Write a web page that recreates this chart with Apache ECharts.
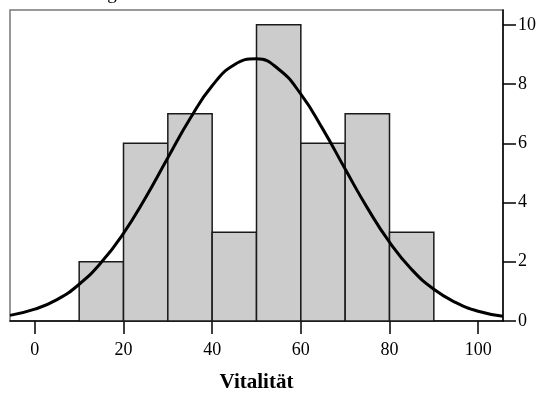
<!DOCTYPE html>
<html>
<head>
<meta charset="utf-8">
<script src="https://cdn.jsdelivr.net/npm/echarts@6/dist/echarts.min.js"></script>
<style>html,body{margin:0;padding:0;background:#fff;}#c{width:546px;height:398px;}</style>
</head>
<body>
<div id="c"></div>
<script>
// Histogram bins (Vitalität) and counts
var binStarts = [10, 20, 30, 40, 50, 60, 70, 80];
var binEnds   = [20, 30, 40, 50, 60, 70, 80, 90];
var counts    = [2, 6, 7, 3, 10, 6, 7, 3];
// Normal curve points
var curveX = [-5.6, 0, 5, 10, 15, 20, 25, 30, 35, 40, 45, 50, 55, 60, 65, 70, 75, 80, 85, 90, 95, 100, 105.6];
var curveY = [0.19, 0.40, 0.72, 1.24, 1.98, 2.96, 4.17, 5.51, 6.83, 7.94, 8.65, 8.85, 8.50, 7.66, 6.47, 5.13, 3.82, 2.66, 1.74, 1.07, 0.62, 0.33, 0.16];
var xTicks = [0, 20, 40, 60, 80, 100];
var yTicks = [0, 2, 4, 6, 8, 10];
var xTitle = 'Vitalität';
var chartTitle = 'Histogramm';

var barData = binStarts.map(function (s, i) { return [s, binEnds[i], counts[i]]; });
var lineData = curveX.map(function (x, i) { return [x, curveY[i]]; });
var FONT = 'Liberation Serif';

var chart = echarts.init(document.getElementById('c'), null, {renderer: 'canvas'});
chart.setOption({
  animation: false,
  backgroundColor: '#ffffff',
  graphic: [{
    type: 'text', left: 66, top: -15, silent: true,
    style: {text: chartTitle, font: '19px "Liberation Serif"', fill: '#000'}
  }],
  grid: {left: 10, right: 43, top: 10, bottom: 75, show: true, borderColor: '#777', borderWidth: 1.5, backgroundColor: 'transparent'},
  xAxis: {
    type: 'value', min: -5.6, max: 105.6,
    splitLine: {show: false},
    axisLine: {show: true, onZero: false, lineStyle: {color: '#000', width: 1.5}},
    axisTick: {show: true, length: 13, customValues: xTicks, lineStyle: {color: '#000', width: 1.5}},
    axisLabel: {customValues: xTicks, margin: 20, fontFamily: FONT, fontSize: 18, color: '#000'},
    name: xTitle, nameLocation: 'middle', nameGap: 51,
    nameTextStyle: {fontFamily: FONT, fontSize: 21, fontWeight: 'bold', color: '#000'}
  },
  yAxis: {
    type: 'value', position: 'right', min: 0, max: 10.5,
    splitLine: {show: false},
    axisLine: {show: true, onZero: false, lineStyle: {color: '#000', width: 1.5}},
    axisTick: {show: true, length: 13, customValues: yTicks, lineStyle: {color: '#000', width: 1.5}},
    axisLabel: {customValues: yTicks, margin: 15, fontFamily: FONT, fontSize: 18, color: '#000'}
  },
  series: [{
    type: 'custom',
    data: barData,
    encode: {x: [0, 1], y: 2},
    renderItem: function (params, api) {
      var p0 = api.coord([api.value(0), 0]);
      var p1 = api.coord([api.value(1), api.value(2)]);
      return {
        type: 'rect',
        shape: {x: p0[0], y: p1[1], width: p1[0] - p0[0], height: p0[1] - p1[1]},
        style: {fill: '#cccccc', stroke: '#1a1a1a', lineWidth: 1.5}
      };
    },
    z: 2
  }, {
    type: 'line',
    data: lineData,
    smooth: true,
    showSymbol: false,
    lineStyle: {color: '#000', width: 3},
    z: 3
  }]
});
</script>
</body>
</html>
